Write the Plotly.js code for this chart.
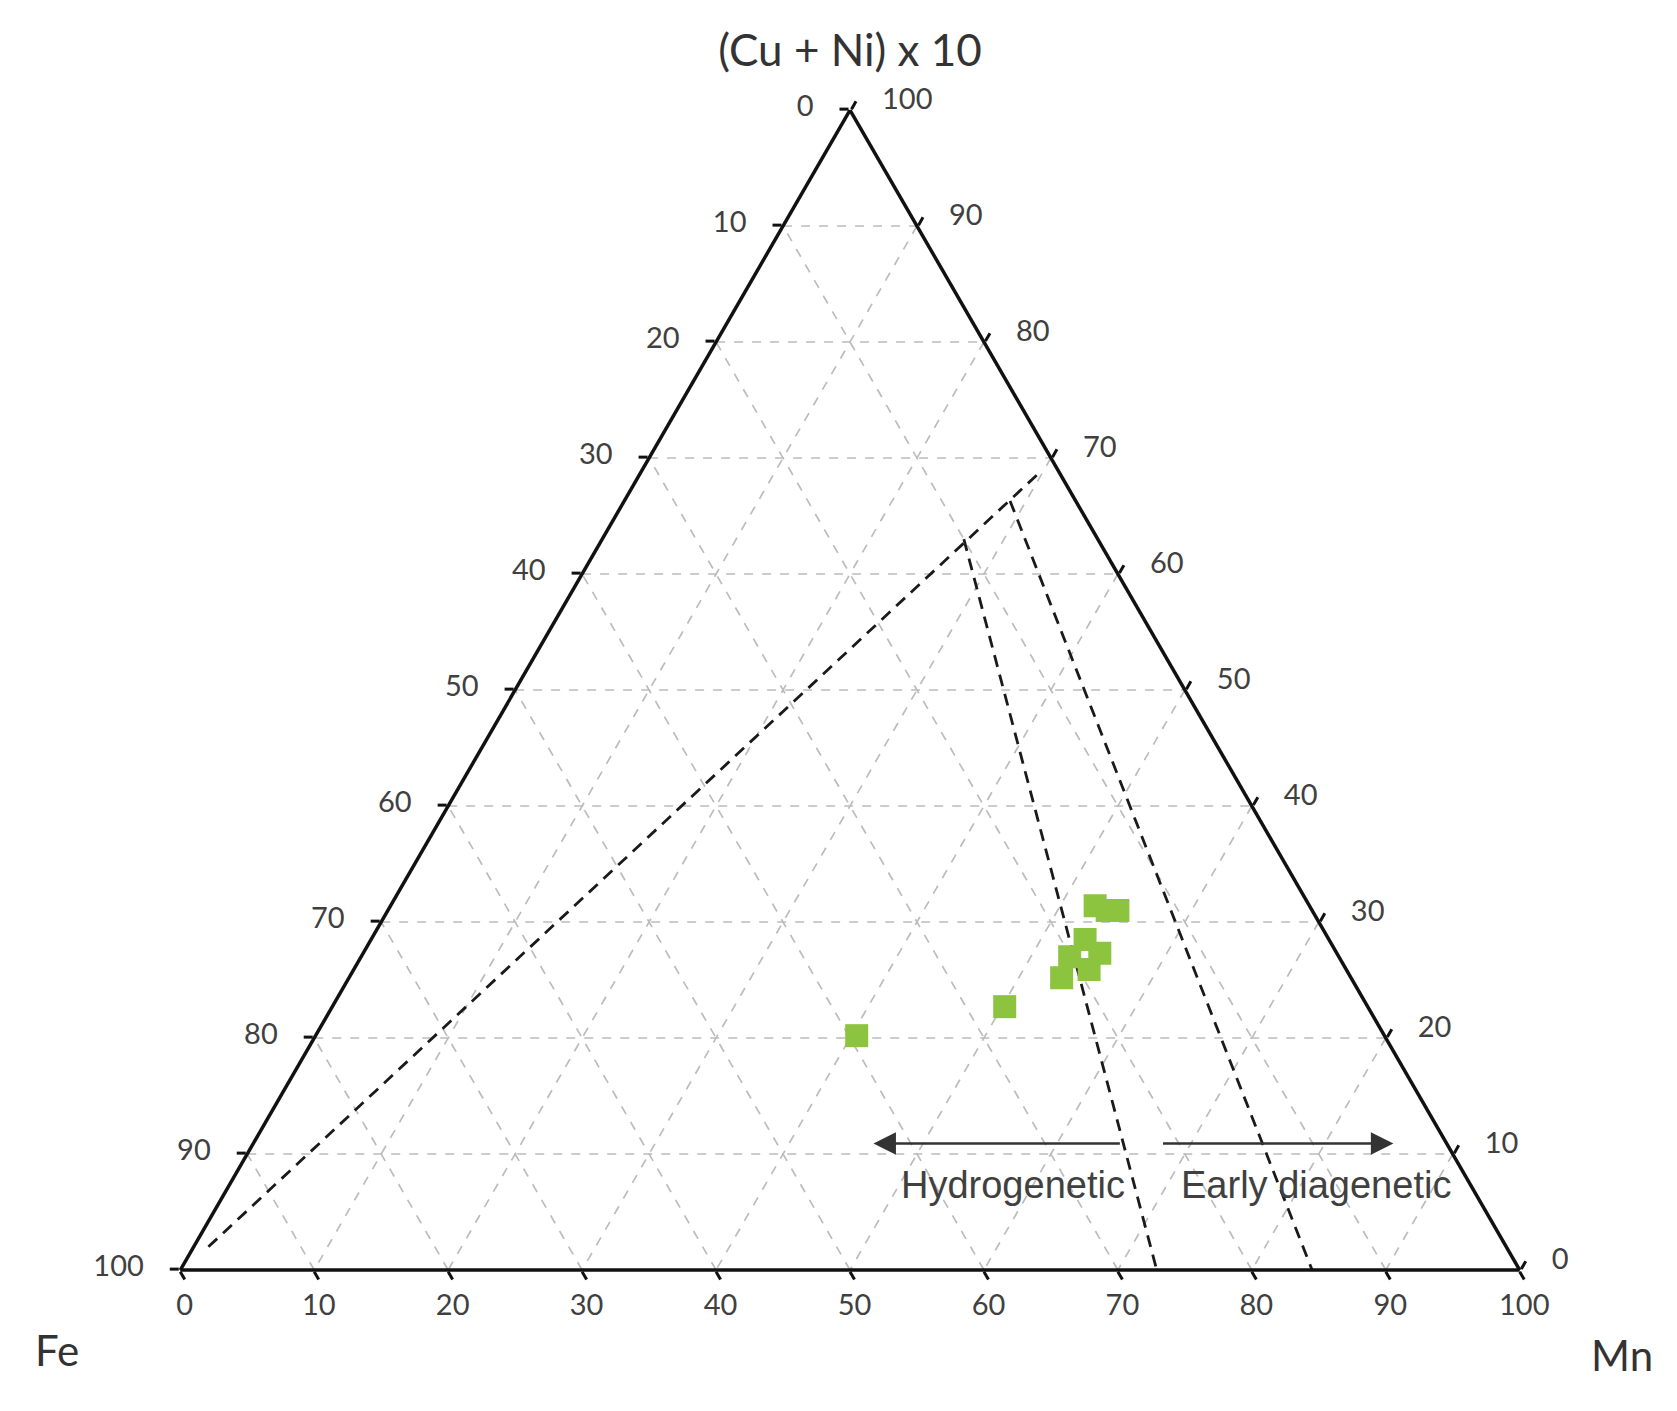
<!DOCTYPE html>
<html>
<head>
<meta charset="utf-8">
<script src="https://cdn.plot.ly/plotly-3.0.1.min.js"></script>
<style>
  html, body { margin: 0; padding: 0; background: #fff; }
  #chart { width: 1677px; height: 1411px; }
</style>
</head>
<body>
<div id="chart"></div>
<script>
// sample compositions (percent of (Cu+Ni)x10 + Fe + Mn)
var cuNi = [20.2, 22.7, 31.4, 31.0, 31.0, 28.5, 27.3, 25.9, 25.2, 27.0];
var fe   = [39.4, 27.1, 16.0, 15.3, 14.5, 18.2, 17.7, 19.2, 21.6, 20.1];
var mn   = [40.4, 50.2, 52.6, 53.7, 54.5, 53.3, 55.0, 54.9, 53.2, 52.9];

// dashed field boundaries, start and end point
var line1CuNi = [2.0, 68.8], line1Fe = [96.9, 1.4], line1Mn = [1.1, 29.8];
var line2CuNi = [63.0, 0],   line2Fe = [10.0, 27.1], line2Mn = [27.0, 72.9];
var line3CuNi = [66.3, 0],   line3Fe = [4.9, 15.5],  line3Mn = [28.8, 84.5];

// tick values, labels run the other way round in the original
var tickVals = [0, 10, 20, 30, 40, 50, 60, 70, 80, 90, 100];
var tickText = tickVals.map(function(v) { return String(100 - v); });

var W = 1677, H = 1411;
var M = {l: 180, r: 157, t: 110, b: 141};
var plotW = W - M.l - M.r;
var plotH = H - M.t - M.b;

// ternary -> paper position (triangle fills the plot area)
function px(a, c) { return (c + a / 2) / 100; }
function py(a) { return a / 100; }

var pad = '\u00a0\u00a0\u00a0';
var dashLine = {color: '#1a1a1a', width: 2.8, dash: '12px,8px'};

var samples = {
  type: 'scatterternary', mode: 'markers',
  a: cuNi, b: fe, c: mn,
  marker: {symbol: 'square', size: 23, color: '#8cc43f', line: {width: 0}},
  showlegend: false
};
var line1 = {type: 'scatterternary', mode: 'lines', a: line1CuNi, b: line1Fe, c: line1Mn, line: dashLine, showlegend: false};
var line2 = {type: 'scatterternary', mode: 'lines', a: line2CuNi, b: line2Fe, c: line2Mn, line: dashLine, showlegend: false};
var line3 = {type: 'scatterternary', mode: 'lines', a: line3CuNi, b: line3Fe, c: line3Mn, line: dashLine, showlegend: false};

function axis(title, labels, size) {
  return {
    title: {text: title, font: {family: 'Lato', size: size, color: '#333'}},
    min: 0,
    tickmode: 'array', tickvals: tickVals, ticktext: labels,
    ticks: 'outside', ticklen: 9, tickwidth: 3, tickcolor: '#111',
    tickfont: {family: 'Lato', size: 29, color: '#404040'},
    showline: true, linecolor: '#111', linewidth: 3.5,
    showgrid: true, gridcolor: '#bcbcbc', gridwidth: 1.7, griddash: 'dash'
  };
}

var labelFont = {family: 'Liberation Sans, Arial', size: 38, color: '#404040'};
var cornerFont = {family: 'Lato', size: 42, color: '#333'};
var arrowY = py(10.9);

var layout = {
  width: W, height: H,
  margin: M,
  paper_bgcolor: '#fff',
  font: {family: 'Lato'},
  ternary: {
    sum: 100,
    bgcolor: '#fff',
    aaxis: axis('(Cu + Ni) x 10', tickText.map(function(t) { return t + pad; }), 44),
    baxis: axis('', tickText, 40),
    caxis: axis('', tickText.map(function(t) { return pad + t; }), 42)
  },
  annotations: [
    {xref: 'paper', yref: 'paper', x: px(10.9, 46.3), y: arrowY,
     ax: (px(10.9, 64.8) - px(10.9, 46.3)) * plotW, ay: 0,
     showarrow: true, arrowhead: 2, arrowsize: 1.8, arrowwidth: 2.5, arrowcolor: '#333', text: ''},
    {xref: 'paper', yref: 'paper', x: px(10.9, 85.1), y: arrowY,
     ax: (px(10.9, 67.8) - px(10.9, 85.1)) * plotW, ay: 0,
     showarrow: true, arrowhead: 2, arrowsize: 1.8, arrowwidth: 2.5, arrowcolor: '#333', text: ''},
    {xref: 'paper', yref: 'paper', x: px(7.3, 58.5), y: py(7.3), xanchor: 'center', yanchor: 'middle',
     text: 'Hydrogenetic', showarrow: false, font: labelFont},
    {xref: 'paper', yref: 'paper', x: px(7.3, 81.1), y: py(7.3), xanchor: 'center', yanchor: 'middle',
     text: 'Early diagenetic', showarrow: false, font: labelFont},
    // corner component names
    {xref: 'paper', yref: 'paper', x: (57 - M.l) / plotW, y: -80 / plotH, xanchor: 'center', yanchor: 'middle',
     text: 'Fe', showarrow: false, font: cornerFont},
    {xref: 'paper', yref: 'paper', x: (1622 - M.l) / plotW, y: -85 / plotH, xanchor: 'center', yanchor: 'middle',
     text: 'Mn', showarrow: false, font: cornerFont}
  ]
};

Plotly.newPlot('chart', [line1, line2, line3, samples], layout, {displayModeBar: false, staticPlot: true});
</script>
</body>
</html>
